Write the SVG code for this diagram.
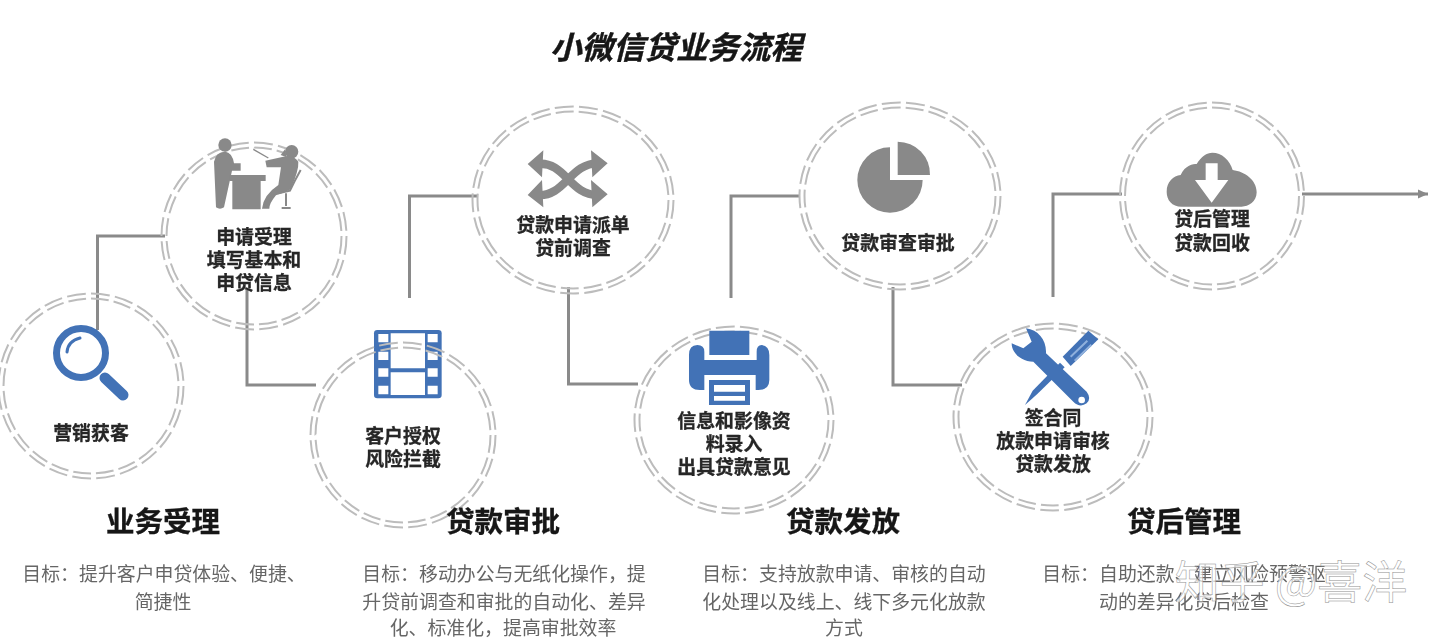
<svg xmlns="http://www.w3.org/2000/svg" width="1440" height="642" viewBox="0 0 1440 642">
<style>
text{font-family:"Noto Sans CJK SC","Noto Sans",sans-serif;text-anchor:middle}
.ring{fill:none;stroke:#bcbcbc;stroke-width:2;stroke-dasharray:.78 .22}
.lbl{font-size:18.9px;font-weight:700;fill:#262626;stroke:#262626;stroke-width:.3}
.hd{font-size:28.500px;font-weight:700;fill:#141414;stroke:#141414;stroke-width:.3}
.bd{font-size:18.900px;fill:#666}
.gr{fill:#898989}
.bl{fill:#4272b6}
.wh{fill:#fff}
.cn{fill:none;stroke:#8a8a8a;stroke-width:3}
</style>
<defs>
<marker id="ah" markerUnits="userSpaceOnUse" markerWidth="12" markerHeight="12" refX="10" refY="6" orient="auto"><path d="M0 1.500L10 6L0 10.500Z" fill="#8a8a8a"/></marker>
<filter id="sf" x="-5%" y="-5%" width="110%" height="110%"><feGaussianBlur stdDeviation=".55"/></filter>
</defs>
<rect width="1440" height="642" fill="#fff"/>
<g filter="url(#sf)">
<g id="connectors">
<path class="cn" d="M97.500 330V236H165"/>
<path class="cn" d="M247 290V385H316"/>
<path class="cn" d="M409.500 298V196H477"/>
<path class="cn" d="M568.500 287V384H638"/>
<path class="cn" d="M731 298V196H800"/>
<path class="cn" d="M893 287V385H962"/>
<path class="cn" d="M1053 297V194H1122"/>
<path class="cn" d="M1302 194H1428" stroke-width="2.500" marker-end="url(#ah)"/>
</g>
<g id="n1">
<ellipse class="ring" cx="91" cy="386" rx="92.500" ry="92.500" pathLength="24"/><ellipse class="ring" cx="91" cy="386" rx="87.500" ry="87.500" pathLength="24"/>
<circle cx="81" cy="353" r="24.500" fill="#fff" stroke="#4272b6" stroke-width="7"/>
<path d="M67 352Q68 341 80 338" fill="none" stroke="#4272b6" stroke-width="3" stroke-linecap="round"/>
<path d="M105 378L123 395" stroke="#4272b6" stroke-width="11" stroke-linecap="round"/>
<text class="lbl" x="91" y="440">营销获客</text>
</g>
<g id="n2">
<ellipse class="ring" cx="254" cy="236" rx="92.500" ry="93.500" pathLength="24"/><ellipse class="ring" cx="254" cy="236" rx="87.500" ry="88.500" pathLength="24"/>
<g transform="translate(0 120) scale(.33333)">
<circle class="gr" cx="675" cy="75" r="20"/>
<path class="gr" d="M642 125Q648 95 675 95Q697 97 702 130H722V152H696L672 262Q660 270 648 262Z"/>
<path class="gr" d="M688 165H797V183H782V268H697V183H688Z"/>
<circle class="gr" cx="875" cy="95" r="20"/>
<path class="gr" d="M855 88L842 105L860 112Z"/>
<path class="gr" d="M796 122L850 110Q880 103 895 125Q897 150 872 208Q845 222 828 226Q808 250 808 266H786Q790 225 835 195L843 142L800 142Z"/>
<path d="M760 88L805 114" stroke="#898989" stroke-width="4"/>
<path d="M902 150Q885 180 870 212L835 220M858 220V258M845 264H872" fill="none" stroke="#898989" stroke-width="6"/>
</g>
<text class="lbl" x="254" y="244">申请受理</text>
<text class="lbl" x="254" y="267">填写基本和</text>
<text class="lbl" x="254" y="290">申贷信息</text>
</g>
<g id="n3">
<g transform="translate(0 120) scale(.33333)">
<rect class="bl" x="1122" y="630" width="203" height="205" rx="10"/>
<path class="wh" d="M1135 642h30v25h-30zM1135 695h30v25h-30zM1135 745h30v25h-30zM1135 797h30v26h-30zM1283 642h30v25h-30zM1283 695h30v25h-30zM1283 745h30v25h-30zM1283 797h30v26h-30zM1172 640h103v105h-103zM1172 757h103v68h-103z"/>
</g>
<ellipse class="ring" cx="403" cy="435" rx="92.500" ry="92.500" pathLength="24"/><ellipse class="ring" cx="403" cy="435" rx="87.500" ry="87.500" pathLength="24"/>
<text class="lbl" x="403" y="443">客户授权</text>
<text class="lbl" x="403" y="466">风险拦截</text>
</g>
<g id="n4">
<ellipse class="ring" cx="573" cy="200" rx="100.500" ry="93.500" pathLength="25"/><ellipse class="ring" cx="573" cy="200" rx="95.500" ry="88.500" pathLength="25"/>
<g transform="translate(460 90) scale(.33333)">
<path d="M232 222C315 212 330 318 415 315M232 315C315 322 330 218 415 220" fill="none" stroke="#898989" stroke-width="25"/>
<path class="gr" d="M203 222L250 181L246 262ZM203 315L246 270L250 352ZM443 220L393 181L397 262ZM443 313L393 270L397 352Z"/>
</g>
<text class="lbl" x="573" y="232">贷款申请派单</text>
<text class="lbl" x="573" y="255">贷前调查</text>
</g>
<g id="n5">
<ellipse class="ring" cx="734" cy="420" rx="99.500" ry="93.500" pathLength="25"/><ellipse class="ring" cx="734" cy="420" rx="94.500" ry="88.500" pathLength="25"/>
<g transform="translate(460 90) scale(.33333)">
<path class="bl" d="M748 722H868V795H748Z"/>
<path class="bl" d="M712 765Q733 765 733 785V810H890V785Q890 765 905 765Q928 768 928 795V870Q928 900 895 900H887V855H733V900H720Q687 900 687 870V795Q687 765 712 765Z"/>
<path class="bl" d="M747 870H870V945H747Z"/>
<path class="wh" d="M762 885H855V905H762ZM762 918H855V932H762Z"/>
</g>
<text class="lbl" x="734" y="428">信息和影像资</text>
<text class="lbl" x="734" y="451">料录入</text>
<text class="lbl" x="734" y="474">出具贷款意见</text>
</g>
<g id="n6">
<ellipse class="ring" cx="900" cy="196" rx="100.500" ry="93.500" pathLength="25"/><ellipse class="ring" cx="900" cy="196" rx="95.500" ry="88.500" pathLength="25"/>
<g transform="translate(460 90) scale(.33333)">
<path class="gr" d="M1290 172V270H1388A98 98 0 1 1 1290 172Z"/>
<path class="gr" d="M1313 155A97 97 0 0 1 1410 255H1313Z"/>
</g>
<text class="lbl" x="898" y="250">贷款审查审批</text>
</g>
<g id="n7">
<ellipse class="ring" cx="1053" cy="417" rx="99.500" ry="93.500" pathLength="25"/><ellipse class="ring" cx="1053" cy="417" rx="94.500" ry="88.500" pathLength="25"/>
<g transform="translate(940 90) scale(.33333)">
<path class="bl" d="M368 800L445 722L475 748L392 828Z"/>
<path d="M392 800L442 752M404 812L454 764" stroke="#8fb0dc" stroke-width="6"/>
<path class="bl" d="M360 818L374 832L292 912L255 945L278 902Z"/>
<path class="bl" d="M258 715C295 720 320 750 318 790L440 905Q455 925 440 940Q420 955 400 935L280 815C245 815 215 790 215 760L250 775L275 755Z"/>
<circle class="wh" cx="425" cy="930" r="10"/>
</g>
<text class="lbl" x="1053" y="425">签合同</text>
<text class="lbl" x="1053" y="448">放款申请审核</text>
<text class="lbl" x="1053" y="471">贷款发放</text>
</g>
<g id="n8">
<ellipse class="ring" cx="1212" cy="196" rx="92" ry="93.500" pathLength="24"/><ellipse class="ring" cx="1212" cy="196" rx="87" ry="88.500" pathLength="24"/>
<g transform="translate(940 90) scale(.33333)">
<path class="gr" d="M725 350C695 350 680 330 680 305C680 275 700 258 722 255C735 225 760 222 770 222C785 198 800 188 817 188C845 188 870 210 878 240C915 245 950 270 950 307C950 335 925 350 905 350Z"/>
<path class="wh" d="M797 220H833V270H865L815 338L765 270H797Z"/>
</g>
<text class="lbl" x="1212" y="226">贷后管理</text>
<text class="lbl" x="1212" y="250">贷款回收</text>
</g>
<g id="title"><text x="676" y="59" font-size="31.500" font-weight="700" font-style="italic" fill="#141414" stroke="#141414" stroke-width=".4">小微信贷业务流程</text></g>
<g id="sections">
<text class="hd" x="163" y="532">业务受理</text>
<text class="hd" x="503" y="532">贷款审批</text>
<text class="hd" x="843" y="532">贷款发放</text>
<text class="hd" x="1184" y="532">贷后管理</text>
<text class="bd" x="164" y="581">目标：提升客户申贷体验、便捷、</text>
<text class="bd" x="163" y="609">简捷性</text>
<text class="bd" x="504" y="581">目标：移动办公与无纸化操作，提</text>
<text class="bd" x="504" y="609">升贷前调查和审批的自动化、差异</text>
<text class="bd" x="503" y="635">化、标准化，提高审批效率</text>
<text class="bd" x="844" y="581">目标：支持放款申请、审核的自动</text>
<text class="bd" x="844" y="609">化处理以及线上、线下多元化放款</text>
<text class="bd" x="844" y="635">方式</text>
<text class="bd" x="1184" y="581">目标：自助还款、建立风险预警驱</text>
<text class="bd" x="1184" y="609">动的差异化贷后检查</text>
</g>
</g>
<g id="watermark"><text x="1291" y="599" font-size="45" fill="#fff" fill-opacity=".7" stroke="#909090" stroke-width=".5">知乎 @喜洋</text></g>
</svg>
